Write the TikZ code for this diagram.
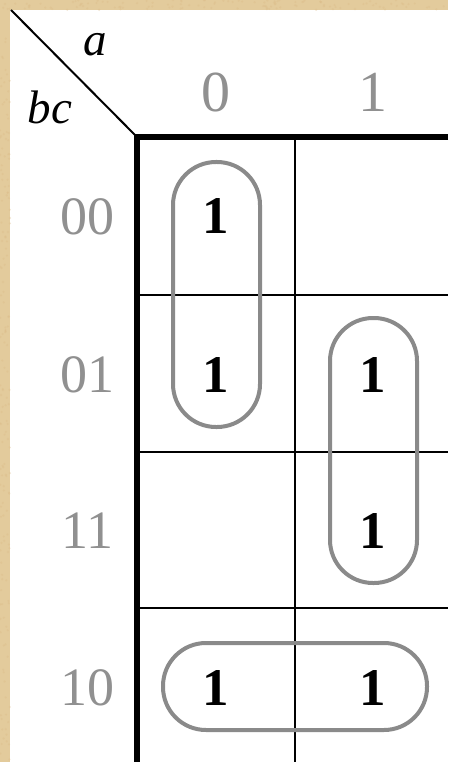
\documentclass[tikz,border=0pt]{standalone}
\usepackage{fontspec}
\setmainfont{Liberation Serif}
\definecolor{parch}{HTML}{E3CB9C}
\definecolor{labgray}{HTML}{909090}
\definecolor{loopgray}{HTML}{8A8A8A}
\tikzset{
  onecell/.style={inner sep=0pt, font=\fontsize{53}{60}\selectfont\bfseries},
  rowlab/.style={inner sep=0pt, text=labgray, font=\fontsize{54}{60}\selectfont},
  collab/.style={inner sep=0pt, text=labgray, font=\fontsize{58}{60}\selectfont},
  varlab/.style={inner sep=0pt, font=\fontsize{47}{52}\selectfont\itshape},
  thickline/.style={line width=5.5pt},
  thinline/.style={line width=2.4pt},
  loopbox/.style={draw=loopgray, line width=4pt, rounded corners=43pt}
}
\begin{document}
\begin{tikzpicture}[x=1pt,y=-1pt]
\useasboundingbox (0,0) rectangle (448,762);
\fill[parch] (0,0) rectangle (448,762);
\fill[white] (10,10) rectangle (448,762);
% speckles
\foreach \i in {1,...,120}{
  \pgfmathsetmacro{\px}{rnd*448}
  \pgfmathsetmacro{\py}{rnd*10}
  \fill[parch!80!brown, opacity=0.4] (\px,\py) circle (1.2pt);
}
\foreach \i in {1,...,160}{
  \pgfmathsetmacro{\px}{rnd*10}
  \pgfmathsetmacro{\py}{rnd*762}
  \fill[parch!80!brown, opacity=0.4] (\px,\py) circle (1.2pt);
}
% corner
\coordinate (tl) at (11,10);
\coordinate (corner) at (137,137);
\coordinate (topend) at (448,137);
\coordinate (leftend) at (137,762);
\draw[line width=2pt] (tl) -- (corner);
% grid
\coordinate (v0) at (295,137);
\coordinate (v1) at (295,762);
\coordinate (h1a) at (137,295);
\coordinate (h1b) at (448,295);
\coordinate (h2a) at (137,452);
\coordinate (h2b) at (448,452);
\coordinate (h3a) at (137,608);
\coordinate (h3b) at (448,608);
\draw[thinline] (v0) -- (v1);
\draw[thinline] (h1a) -- (h1b);
\draw[thinline] (h2a) -- (h2b);
\draw[thinline] (h3a) -- (h3b);
\draw[thickline] (topend) -- (corner) -- (leftend);
% variable labels
\node[varlab] (a) at (95,45) {a};
\node[varlab] (bc) at (50,107) {bc};
% column labels
\node[collab] (c0) at (215.5,92) {0};
\node[collab] (c1) at (372.5,92) {1};
% row labels
\node[rowlab] (r00) at (87,217) {00};
\node[rowlab] (r01) at (87,375) {01};
\node[rowlab] (r11) at (87,531) {11};
\node[rowlab] (r10) at (87,688) {10};
% ones
\node[onecell] (m0) at (216,216) {1};
\node[onecell] (m1) at (216,375) {1};
\node[onecell] (m5) at (373,375) {1};
\node[onecell] (m7) at (373,531) {1};
\node[onecell] (m2) at (216,688) {1};
\node[onecell] (m6) at (373,688) {1};
% loops
\draw[loopbox] (173,162) rectangle (260,427);
\draw[loopbox] (330,318) rectangle (417,583);
\draw[loopbox] (163,643) rectangle (427,730);
\end{tikzpicture}
\end{document}
